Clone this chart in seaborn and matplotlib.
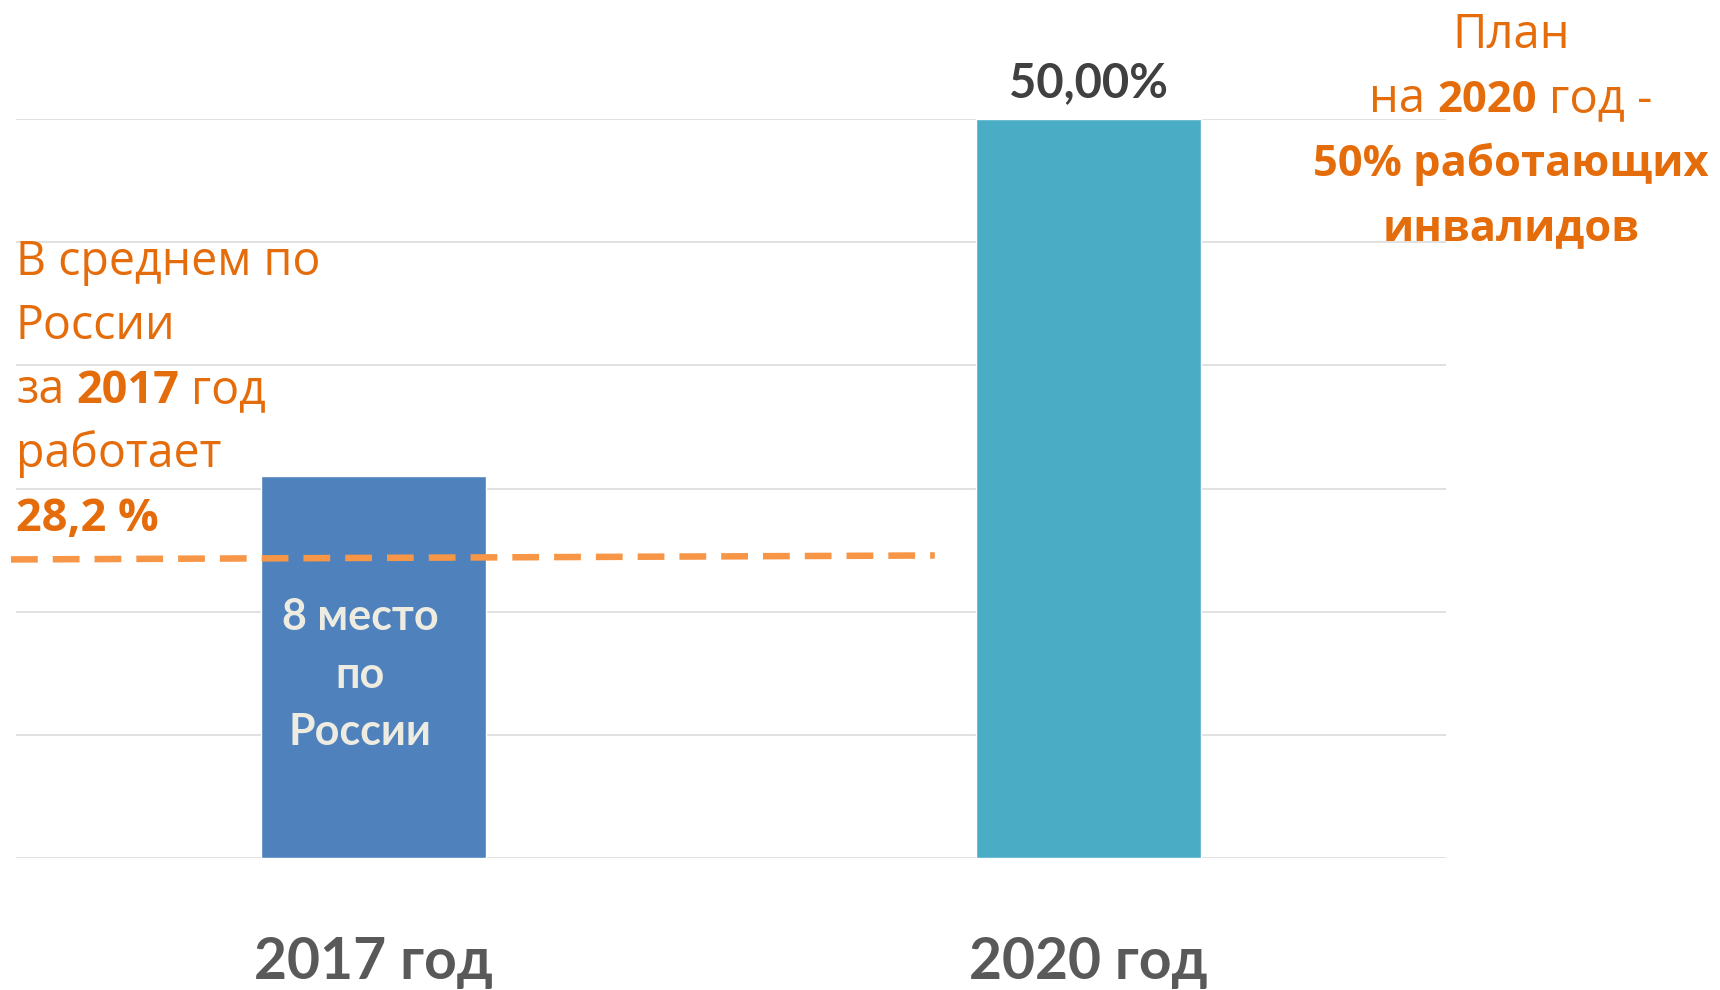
import matplotlib
matplotlib.use('Agg')
import matplotlib.pyplot as plt
import seaborn as sns
import numpy as np
import pandas as pd

# --- data ---
years = ['2017 год', '2020 год']
share = [25.85, 50.0]                 # bar heights, %
bar_colors = ['#4F81BD', '#4BACC6']
bar_labels = ['', '50,00%']
grid_ticks = np.linspace(0, 50, 7)

# hand-drawn "average for Russia" dashed line
avg_x = [-0.507, 0.785]
avg_y = [20.2, 20.47]

left_note = [
    [('В среднем по', 'normal')],
    [('России', 'normal')],
    [('за', 'normal'), ('2017', 'bold'), ('год', 'normal')],
    [('работает', 'normal')],
    [('28,2 %', 'bold')],
]
right_note = [
    [('План', 'normal')],
    [('на', 'normal'), ('2020', 'bold'), ('год -', 'normal')],
    [('50% работающих', 'bold')],
    [('инвалидов', 'bold')],
]
bar_note = ['8 место', 'по', 'России']

ORANGE = '#E46C0A'
NOTE_FONT = ['Open Sans', 'DejaVu Sans']
W, H = 1720, 990

sns.set_theme(style='white')
plt.rcParams['font.family'] = ['Lato', 'DejaVu Sans']

fig = plt.figure(figsize=(W / 100, H / 100), dpi=100)
ax = fig.add_axes([16 / W, 1 - 858 / H, 1430 / W, 739 / H])

df = pd.DataFrame({'year': years, 'share': share})
sns.barplot(data=df, x='year', y='share', hue='year', palette=bar_colors,
            width=0.315, saturation=1, legend=False, ax=ax, zorder=2)

ax.set_xlim(-0.5, 1.5)
ax.set_ylim(0, 50)
ax.set_yticks(grid_ticks)
ax.set_yticklabels([])
ax.yaxis.grid(True, color='#D9D9D9', linewidth=1.1)
ax.set_axisbelow(True)
for s in ax.spines.values():
    s.set_visible(False)
ax.tick_params(axis='both', length=0)
ax.tick_params(axis='x', pad=56)
ax.set_xlabel('')
ax.set_ylabel('')
for lbl in ax.get_xticklabels():
    lbl.set_fontsize(41)
    lbl.set_fontweight('bold')
    lbl.set_color('#595959')

# value label on the 2020 bar
ax.bar_label(ax.containers[1], labels=[bar_labels[1]], padding=10,
             fontsize=34, fontweight='bold', color='#404040')

ax.plot(avg_x, avg_y, color='#F79646', linewidth=4.7,
        linestyle=(0, (4.1, 2.3)), dash_capstyle='butt', clip_on=False, zorder=3)

renderer = fig.canvas.get_renderer()


def text_width(s, **kw):
    t = fig.text(0, 0, s, **kw)
    w = t.get_window_extent(renderer).width
    t.remove()
    return w


def rich_line(parts, x, y, size, color, ha='left', family=None, bold_size=None):
    # parts of one line with mixed weights, x/y in pixels from top-left
    fam = {'family': family} if family else {}
    bold_size = bold_size or size
    sizes = [bold_size if w == 'bold' else size for _, w in parts]
    space = (text_width('a a', fontsize=size, **fam)
             - text_width('aa', fontsize=size, **fam))
    widths = [text_width(s, fontsize=fs, fontweight=w, **fam)
              for (s, w), fs in zip(parts, sizes)]
    total = sum(widths) + space * (len(parts) - 1)
    cx = x - total / 2 if ha == 'center' else x
    for (s, w), fs, wd in zip(parts, sizes, widths):
        fig.text(cx / W, 1 - y / H, s, fontsize=fs, fontweight=w,
                 color=color, ha='left', va='baseline', **fam)
        cx += wd + space


for i, parts in enumerate(left_note):
    rich_line(parts, 16, 275 + 64 * i, 33.5, ORANGE, family=NOTE_FONT, bold_size=32.5)

for i, parts in enumerate(right_note):
    rich_line(parts, 1511, 48 + 64 * i, 34, ORANGE, ha='center',
              family=NOTE_FONT, bold_size=31.3)

for i, s in enumerate(bar_note):
    rich_line([(s, 'bold')], 360, 630 + 57.5 * i, 31, '#EEECE1', ha='center')

fig.savefig('out.png', dpi=100)
